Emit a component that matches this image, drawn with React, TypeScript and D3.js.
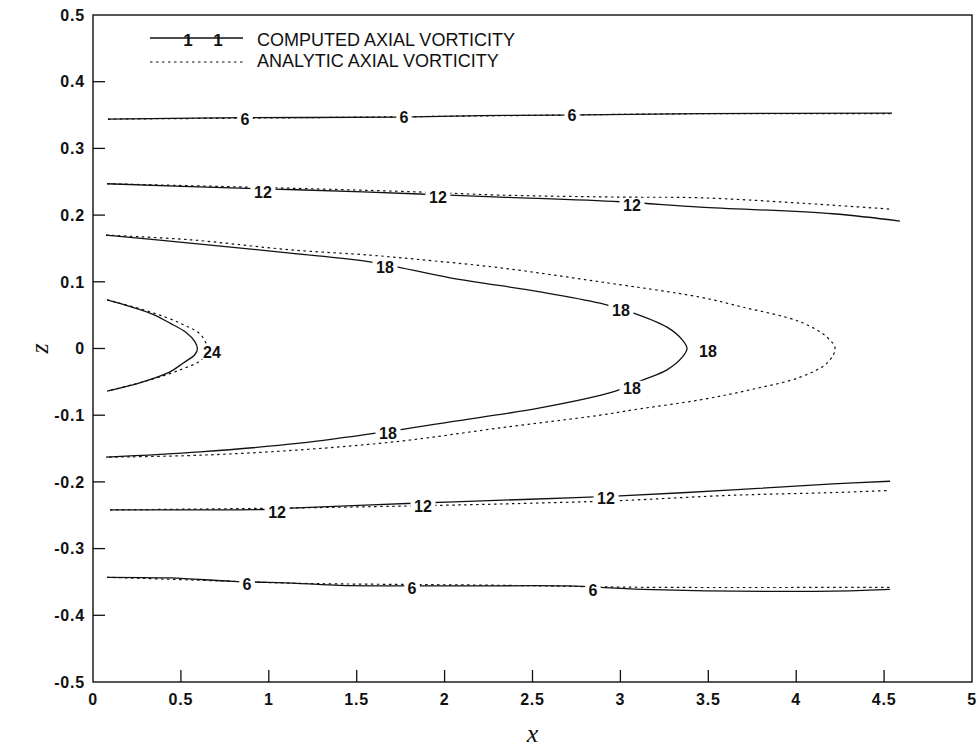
import React from "react";
import * as d3 from "d3";

// Axis ticks
const xTicks = [0, 0.5, 1, 1.5, 2, 2.5, 3, 3.5, 4, 4.5, 5];
const xTickLabels = ["0", "0.5", "1", "1.5", "2", "2.5", "3", "3.5", "4", "4.5", "5"];
const zTicks = [0.5, 0.4, 0.3, 0.2, 0.1, 0, -0.1, -0.2, -0.3, -0.4, -0.5];
const zTickLabels = ["0.5", "0.4", "0.3", "0.2", "0.1", "0", "-0.1", "-0.2", "-0.3", "-0.4", "-0.5"];

type Pt = [number, number];

// Computed axial vorticity contours, [x, z]
const computed6Top: Pt[] = [[0.085, 0.344], [0.893, 0.346], [1.746, 0.347], [2.201, 0.349], [2.656, 0.35], [3.453, 0.352], [4.545, 0.353]];
const computed12Top: Pt[] = [[0.08, 0.247], [0.876, 0.24], [1.16, 0.238], [1.82, 0.232], [2.315, 0.227], [2.998, 0.22], [3.453, 0.212], [4.209, 0.202], [4.59, 0.191]];
const computed18: Pt[] = [
  [0.074, 0.17], [0.552, 0.158], [1.121, 0.143], [1.576, 0.13], [2.031, 0.106], [2.543, 0.085], [2.884, 0.068],
  [3.055, 0.055], [3.265, 0.032], [3.352, 0.013], [3.379, 0.0], [3.352, -0.013], [3.265, -0.032], [3.129, -0.047],
  [2.958, -0.065], [2.543, -0.089], [2.031, -0.11], [1.661, -0.125], [1.177, -0.142], [0.609, -0.155], [0.074, -0.163],
];
const computed24: Pt[] = [
  [0.08, 0.073], [0.324, 0.053], [0.438, 0.038], [0.53, 0.024], [0.58, 0.01], [0.594, 0.0],
  [0.58, -0.009], [0.512, -0.022], [0.438, -0.035], [0.284, -0.05], [0.08, -0.064],
];
const computed12Bottom: Pt[] = [[0.097, -0.242], [0.609, -0.242], [1.007, -0.241], [1.16, -0.239], [1.82, -0.232], [2.486, -0.226], [2.998, -0.221], [3.64, -0.212], [4.209, -0.203], [4.534, -0.199]];
const computed6Bottom: Pt[] = [[0.08, -0.343], [0.438, -0.344], [0.796, -0.349], [1.16, -0.352], [1.405, -0.355], [2.105, -0.356], [2.696, -0.356], [3.129, -0.361], [4.118, -0.364], [4.534, -0.361]];

// Analytic axial vorticity contours, [x, z]
const analytic6Top: Pt[] = [[0.085, 0.344], [1.177, 0.346], [2.315, 0.349], [3.453, 0.352], [4.545, 0.352]];
const analytic12Top: Pt[] = [[0.08, 0.247], [0.876, 0.242], [1.82, 0.235], [2.315, 0.23], [2.998, 0.227], [3.453, 0.226], [4.022, 0.218], [4.534, 0.209]];
const analytic18: Pt[] = [
  [0.074, 0.17], [0.552, 0.163], [1.121, 0.148], [1.576, 0.14], [1.832, 0.134], [2.315, 0.121], [2.884, 0.1],
  [3.453, 0.077], [3.697, 0.062], [4.022, 0.04], [4.175, 0.017], [4.221, 0.0], [4.175, -0.022], [4.022, -0.043],
  [3.737, -0.062], [3.453, -0.077], [3.072, -0.092], [2.884, -0.1], [2.315, -0.119], [1.746, -0.139],
  [1.177, -0.152], [0.609, -0.16], [0.074, -0.163],
];
const analytic24: Pt[] = [
  [0.08, 0.073], [0.324, 0.055], [0.495, 0.038], [0.615, 0.02], [0.648, 0.0],
  [0.615, -0.017], [0.495, -0.032], [0.324, -0.047], [0.08, -0.064],
];
const analytic12Bottom: Pt[] = [[0.097, -0.242], [1.16, -0.239], [2.0, -0.235], [2.486, -0.232], [2.998, -0.228], [3.64, -0.22], [4.209, -0.216], [4.517, -0.213]];
const analytic6Bottom: Pt[] = [[0.08, -0.343], [0.796, -0.349], [1.16, -0.352], [2.315, -0.355], [3.129, -0.358], [4.534, -0.358]];

const computedContours = [computed6Top, computed12Top, computed18, computed24, computed12Bottom, computed6Bottom];
const analyticContours = [analytic6Top, analytic12Top, analytic18, analytic24, analytic12Bottom, analytic6Bottom];

// Contour level labels: [x, z, level]
const contourLabels: [number, number, number][] = [
  [0.865, 0.344, 6], [1.769, 0.347, 6], [2.725, 0.35, 6],
  [0.967, 0.235, 12], [1.962, 0.227, 12], [3.066, 0.215, 12],
  [1.661, 0.122, 18], [3.003, 0.058, 18], [3.498, -0.004, 18], [3.066, -0.059, 18], [1.678, -0.127, 18],
  [0.677, -0.005, 24],
  [1.047, -0.245, 12], [1.877, -0.237, 12], [2.918, -0.225, 12],
  [0.876, -0.354, 6], [1.815, -0.359, 6], [2.844, -0.362, 6],
];

const legendNames = ["COMPUTED AXIAL VORTICITY", "ANALYTIC AXIAL VORTICITY"];

const W = 979;
const H = 750;
const left = 93;
const right = 972;
const top = 15;
const bottom = 682;

const sans = "'Liberation Sans', Arial, Helvetica, sans-serif";
const serif = "'Liberation Serif', 'Times New Roman', serif";

export default function App() {
  const x = d3.scaleLinear().domain([0, 5]).range([left, right]);
  const z = d3.scaleLinear().domain([-0.5, 0.5]).range([bottom, top]);
  const line = d3
    .line<Pt>()
    .x((d) => x(d[0]))
    .y((d) => z(d[1]))
    .curve(d3.curveCatmullRom.alpha(0.5));

  return (
    <div style={{ position: "absolute", left: 0, top: 0 }}>
      <svg width={W} height={H} viewBox={`0 0 ${W} ${H}`} style={{ display: "block", background: "#fff" }}>
        <rect width={W} height={H} fill="#fff" />

        {/* frame */}
        <rect x={left} y={top} width={right - left} height={bottom - top} fill="none" stroke="#111" strokeWidth={1.4} />

        {/* x ticks */}
        {xTicks.map((t, i) => (
          <g key={"xt" + i}>
            {i > 0 && i < xTicks.length - 1 && (
              <line x1={x(t)} x2={x(t)} y1={bottom} y2={bottom - 12} stroke="#111" strokeWidth={1.3} />
            )}
            <text x={x(t)} y={bottom + 23} textAnchor="middle" fontFamily={sans} fontWeight="bold" fontSize={16} letterSpacing={0.8} fill="#111">
              {xTickLabels[i]}
            </text>
          </g>
        ))}

        {/* z ticks */}
        {zTicks.map((t, i) => (
          <g key={"zt" + i}>
            {i > 0 && i < zTicks.length - 1 && (
              <line x1={left} x2={left + 12} y1={z(t)} y2={z(t)} stroke="#111" strokeWidth={1.3} />
            )}
            <text x={left - 8} y={z(t)} dy="0.36em" textAnchor="end" fontFamily={sans} fontWeight="bold" fontSize={16} letterSpacing={0.8} fill="#111">
              {zTickLabels[i]}
            </text>
          </g>
        ))}

        {/* axis titles */}
        <text x={x(2.5)} y={742} textAnchor="middle" fontFamily={serif} fontStyle="italic" fontSize={26} fill="#111">
          x
        </text>
        <text
          transform={`translate(48, ${z(0)}) rotate(-90)`}
          textAnchor="middle"
          fontFamily={serif}
          fontStyle="italic"
          fontSize={26}
          fill="#111"
        >
          z
        </text>

        {/* computed contours */}
        {computedContours.map((c, i) => (
          <path key={"c" + i} d={line(c) ?? ""} fill="none" stroke="#111" strokeWidth={1.3} />
        ))}

        {/* analytic contours */}
        {analyticContours.map((c, i) => (
          <path key={"a" + i} d={line(c) ?? ""} fill="none" stroke="#111" strokeWidth={1.2} strokeDasharray="2.5,3.5" />
        ))}

        {/* contour labels */}
        {contourLabels.map(([lx, lz, v], i) => {
          const s = String(v);
          const w = s.length * 9.5 + 6;
          return (
            <g key={"l" + i}>
              <rect x={x(lx) - w / 2} y={z(lz) - 7} width={w} height={14} fill="#fff" />
              <text x={x(lx)} y={z(lz)} dy="0.36em" textAnchor="middle" fontFamily={sans} fontWeight="bold" fontSize={16} fill="#111">
                {s}
              </text>
            </g>
          );
        })}

        {/* legend */}
        <g>
          <line x1={150} x2={243} y1={38} y2={38} stroke="#111" strokeWidth={1.3} />
          {[188, 218].map((mx) => (
            <text key={mx} x={mx} y={45.5} textAnchor="middle" fontFamily={sans} fontWeight="bold" fontSize={17} fill="#111">
              1
            </text>
          ))}
          <text x={257} y={45.5} fontFamily={sans} fontSize={18} fill="#111">
            {legendNames[0]}
          </text>
          <line x1={150} x2={243} y1={62} y2={62} stroke="#111" strokeWidth={1.2} strokeDasharray="2.5,3.5" />
          <text x={257} y={66.5} fontFamily={sans} fontSize={18} fill="#111">
            {legendNames[1]}
          </text>
        </g>
      </svg>
    </div>
  );
}
